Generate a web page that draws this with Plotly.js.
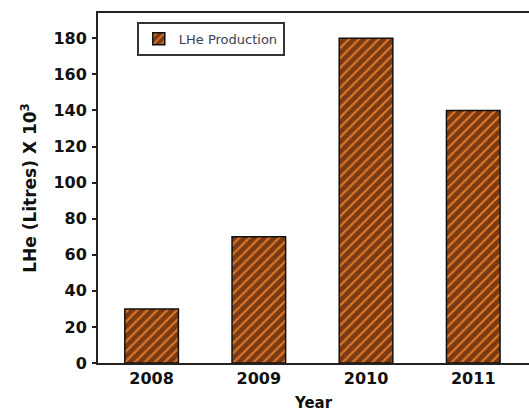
<!DOCTYPE html>
<html><head><meta charset="utf-8">
<script src="https://cdn.plot.ly/plotly-3.0.1.min.js"></script>
<style>html,body{margin:0;padding:0;background:#fff}</style>
</head><body><div id="chart" style="width:529px;height:412px"></div>
<script>
const years = ['2008', '2009', '2010', '2011'];
const production = [30, 70, 180, 140];
const yTicks = [0, 20, 40, 60, 80, 100, 120, 140, 160, 180];

const trace = {
  type: 'bar', x: years, y: production, name: 'LHe Production',
  width: 0.5,
  marker: {
    color: '#7a3a12',
    line: {color: '#111', width: 1.5},
    pattern: {shape: '/', fgcolor: '#e07a2a', bgcolor: '#7a3a12', size: 7, solidity: 0.3}
  }
};
const bold = 'DejaVu Sans, Liberation Sans, Arial, sans-serif';
const layout = {
  width: 529, height: 412,
  margin: {l: 98, r: 0, t: 13, b: 49},
  paper_bgcolor: '#fff', plot_bgcolor: '#fff',
  font: {family: bold, color: '#111'},
  showlegend: true,
  legend: {x: 0.09, y: 0.975, xanchor: 'left', yanchor: 'top', bgcolor: '#fff',
    bordercolor: '#333', borderwidth: 2,
    font: {size: 13, color: '#3c4050', family: 'DejaVu Sans, sans-serif'},
    itemwidth: 30, tracegroupgap: 0},
  xaxis: {type: 'category', range: [-0.5, 3.52], showline: true, linecolor: '#222', linewidth: 2,
    mirror: true, ticks: '', showgrid: false, zeroline: false,
    tickfont: {size: 16, family: bold, weight: 'bold'},
    title: {text: '<b>Year</b>', font: {size: 15}, standoff: 14}},
  yaxis: {range: [0, 194], tickvals: yTicks, showline: true, linecolor: '#222', linewidth: 2,
    ticks: 'outside', ticklen: 4, tickwidth: 1.5, tickcolor: '#222', showgrid: false, zeroline: false,
    tickfont: {size: 16, family: bold, weight: 'bold'}, ticklabelstandoff: 2,
    title: {text: '<b>LHe (Litres) X 10<sup>3</sup></b>', font: {size: 17}, standoff: 12}}
};
Plotly.newPlot('chart', [trace], layout, {displayModeBar: false});
</script></body></html>
